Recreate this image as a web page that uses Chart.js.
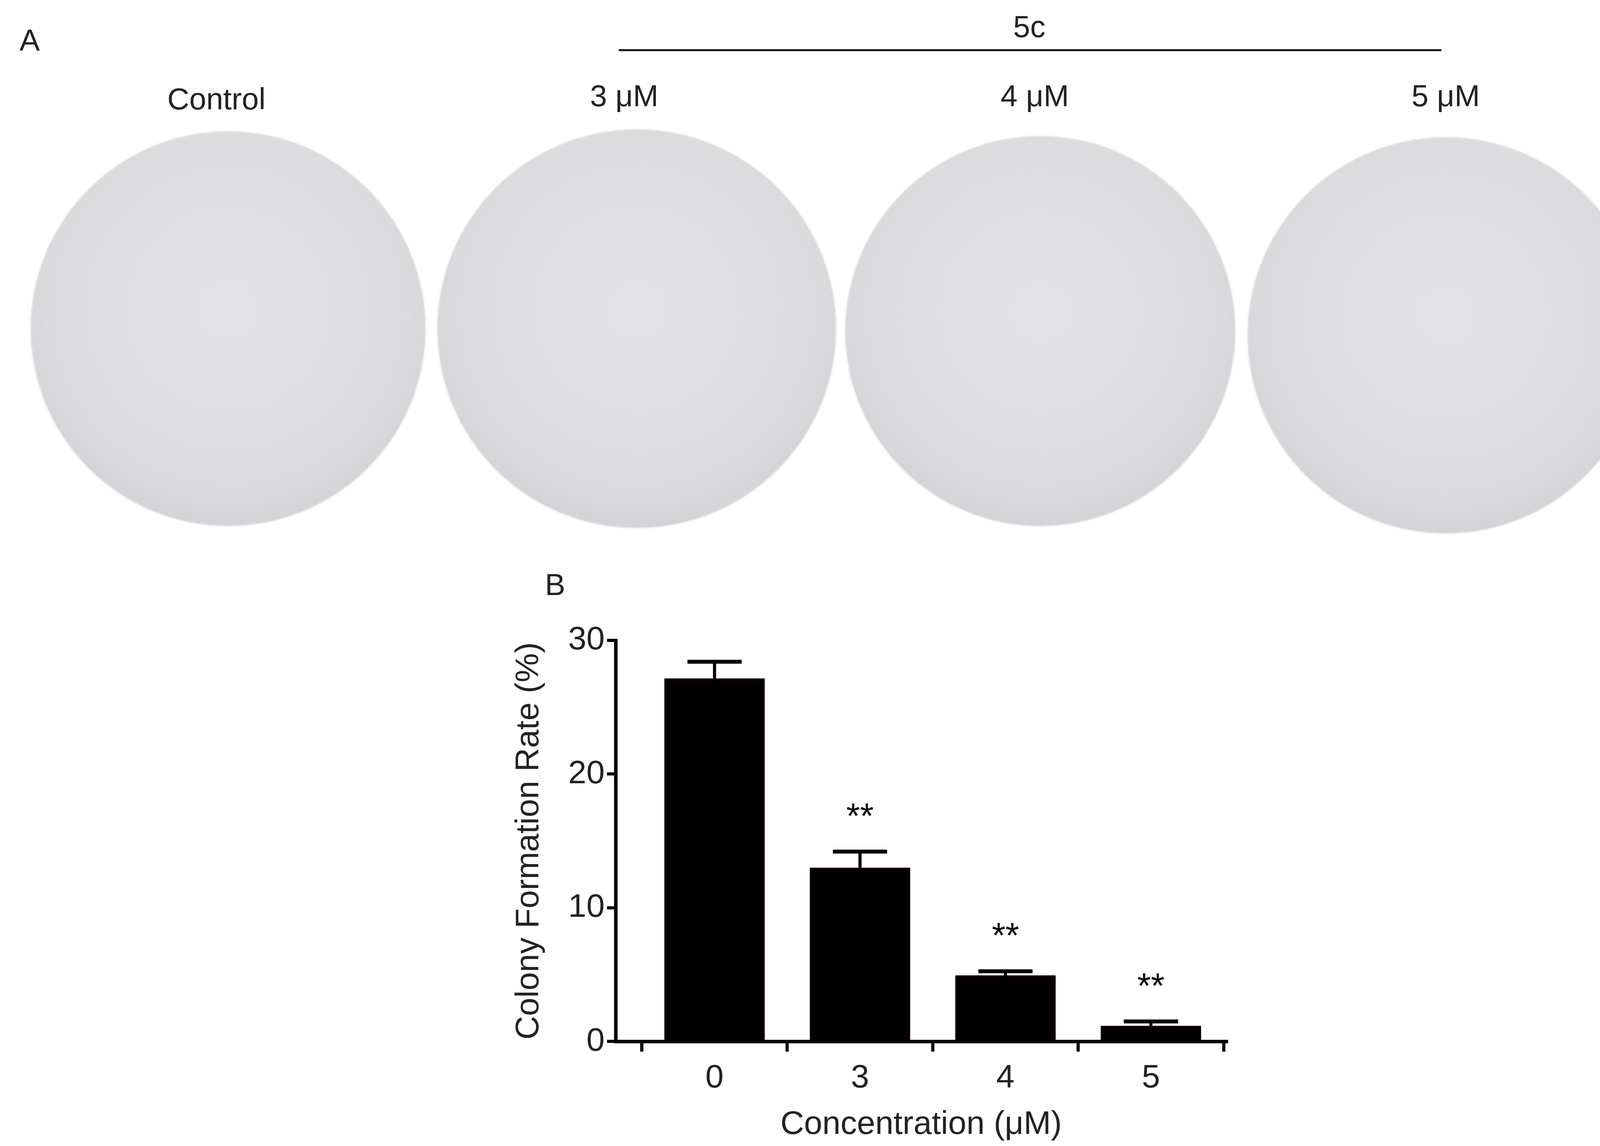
<!DOCTYPE html><html><head><meta charset="utf-8">
<script src="https://cdn.jsdelivr.net/npm/chart.js@4"></script>
<style>
body{margin:0;width:4239px;height:2935px;background:#fff;position:relative;overflow:hidden;font-family:"Liberation Sans",Arial,sans-serif;color:#222}
.t{position:absolute;transform:translate(-50%,-50%);font-size:78px;white-space:nowrap}
.dish{position:absolute;border-radius:50%;background:radial-gradient(circle at 50% 45%,#e4e4e6 0%,#dcdcdf 60%,#c9c9cd 92%,#b8b8bd 100%);box-shadow:0 0 6px #aaa}
#wrap{position:absolute;left:1300px;top:1450px;width:1860px;height:1485px}
</style></head><body>
<div class="t" style="left:76px;top:103px">A</div>
<div class="t" style="left:2635px;top:68px">5c</div>
<div style="position:absolute;left:1584px;top:126px;width:2106px;height:5px;background:#111"></div>
<div class="t" style="left:554px;top:253px">Control</div>
<div class="t" style="left:1598px;top:245px">3 μM</div>
<div class="t" style="left:2649px;top:245px">4 μM</div>
<div class="t" style="left:3701px;top:245px">5 μM</div>
<div class="dish" style="left:81px;top:339px;width:1006px;height:1006px"></div>
<div class="dish" style="left:1122px;top:334px;width:1016px;height:1016px"></div>
<div class="dish" style="left:2166px;top:351px;width:994px;height:994px"></div>
<div class="dish" style="left:3196px;top:354px;width:1010px;height:1010px"></div>
<div class="t" style="left:1421px;top:1497px">B</div>
<div id="wrap"><canvas id="c"></canvas></div>
<script>
const categories=["0","3","4","5"];
const values=[27.15,13.0,4.95,1.17];
const errors=[1.25,1.2,0.3,0.33];
const marks=["","**","**","**"];
const yTicks=[0,10,20,30];

const plug={id:'extra',afterDatasetsDraw(ch){
 const ctx=ch.ctx,x=ch.scales.x,y=ch.scales.y;
 const meta=ch.getDatasetMeta(0);
 ctx.save();ctx.fillStyle='#000';ctx.strokeStyle='#000';
 values.forEach((v,i)=>{
  const bar=meta.data[i];const cx=bar.x;const w=bar.width;
  const top=y.getPixelForValue(v),e=y.getPixelForValue(v+errors[i]);
  ctx.lineWidth=8;ctx.beginPath();ctx.moveTo(cx,top);ctx.lineTo(cx,e);ctx.stroke();
  ctx.lineWidth=10;ctx.beginPath();ctx.moveTo(cx-w*0.27,e);ctx.lineTo(cx+w*0.27,e);ctx.stroke();
  if(marks[i]){ctx.font='90px "Liberation Sans"';ctx.textAlign='center';ctx.textBaseline='middle';
   ctx.fillText(marks[i],cx,y.getPixelForValue(v+errors[i])-85);}
 });
 ctx.restore();}};

new Chart(document.getElementById('c'),{type:'bar',
 data:{datasets:[{data:values.map((v,i)=>({x:i,y:v})),backgroundColor:'#050000',borderWidth:0,barPercentage:0.69,categoryPercentage:1}]},
 options:{responsive:true,maintainAspectRatio:false,animation:false,
  layout:{padding:{top:190,right:20}},
  plugins:{legend:{display:false},tooltip:{enabled:false}},
  scales:{
   x:{type:'linear',min:-0.68,max:3.52,offset:false,
    afterBuildTicks(s){s.ticks=categories.map((c,i)=>({value:i}));},
    ticks:{callback:(v)=>categories[v],color:'#222',font:{size:84,family:'"Liberation Sans"'},padding:18,autoSkip:false},
    grid:{drawOnChartArea:false,color:'#000',lineWidth:8,tickLength:26},
    border:{color:'#000',width:9},
    title:{display:true,text:'Concentration (μM)',color:'#222',font:{size:84,family:'"Liberation Sans"'},padding:{top:0}}},
   y:{min:0,max:30,
    afterBuildTicks(s){s.ticks=yTicks.map(v=>({value:v}));},
    afterFit(s){s.width=276;},
    ticks:{color:'#222',font:{size:84,family:'"Liberation Sans"'},padding:6},
    grid:{drawOnChartArea:false,color:'#000',lineWidth:8,tickLength:22},
    border:{color:'#000',width:9},
    title:{display:true,text:'Colony Formation Rate (%)',color:'#222',font:{size:84,family:'"Liberation Sans"'},padding:{bottom:10}}}
  }},plugins:[plug]});
</script></body></html>
